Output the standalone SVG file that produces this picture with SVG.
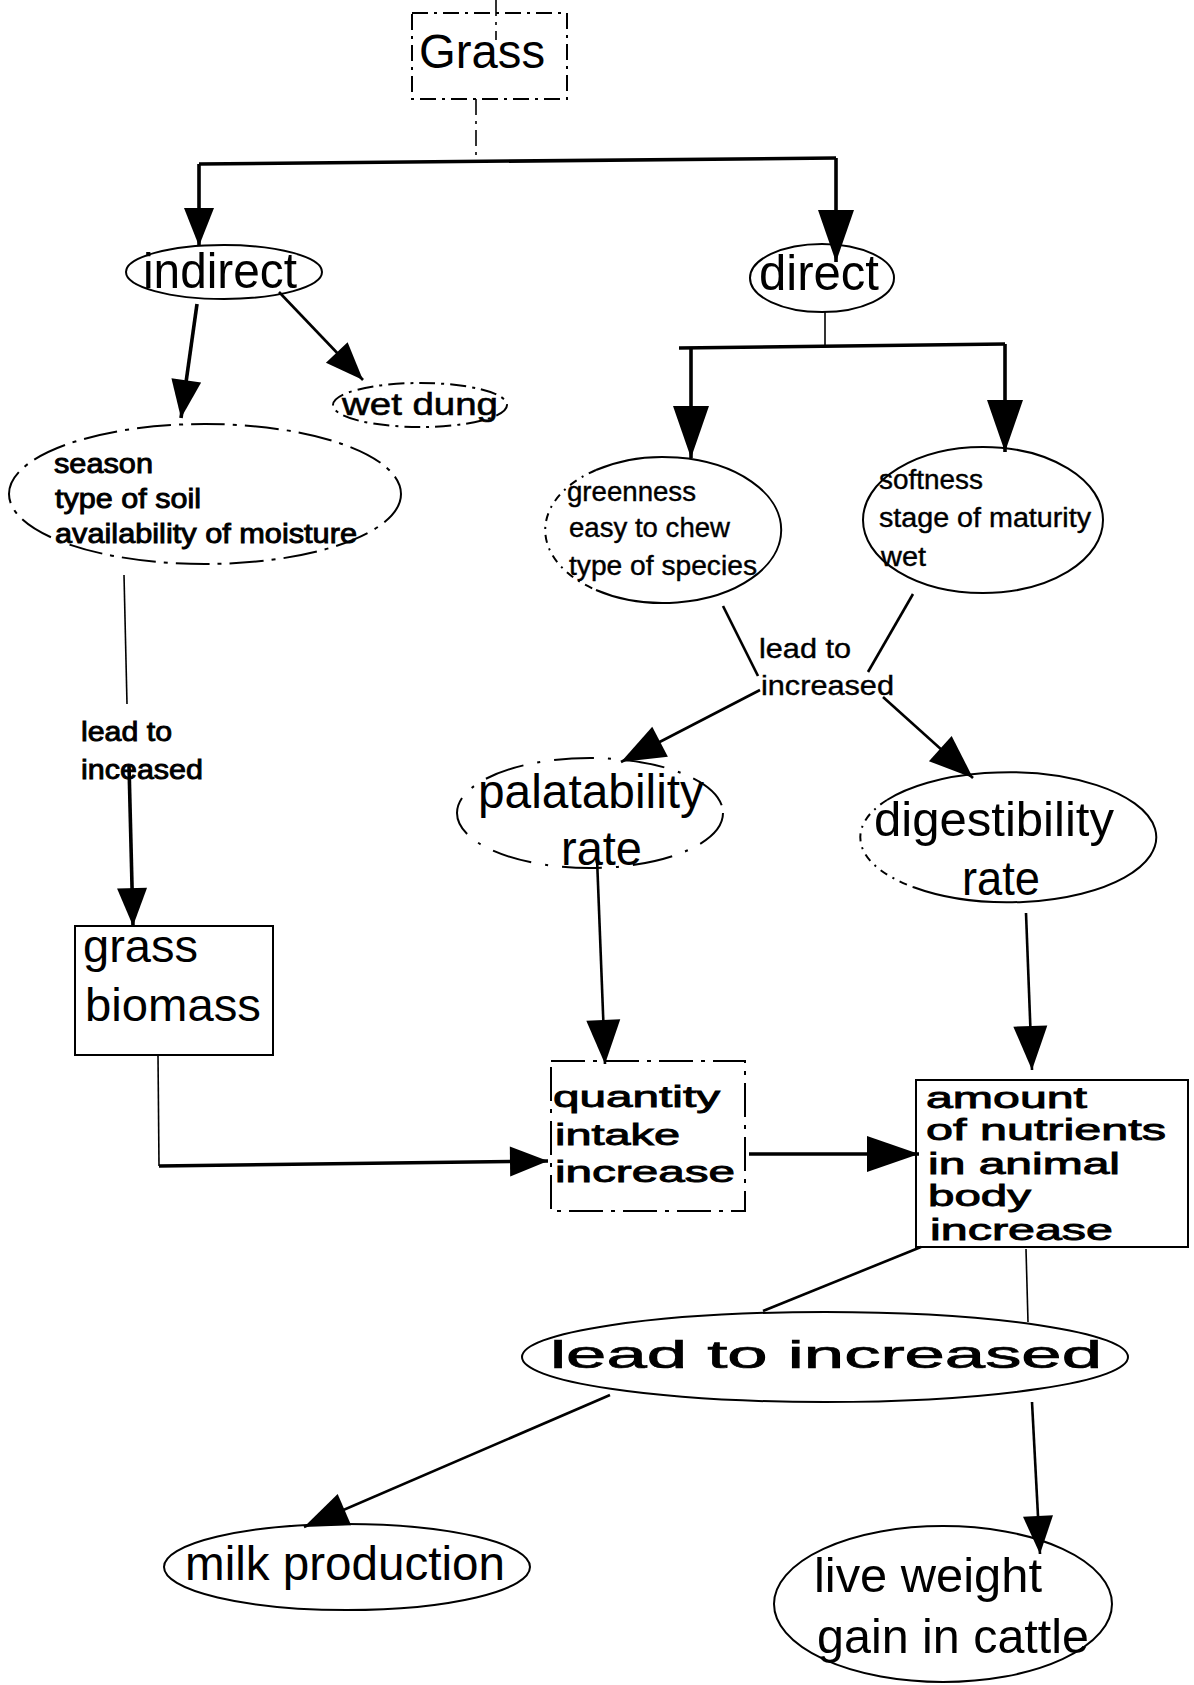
<svg xmlns="http://www.w3.org/2000/svg" width="1194" height="1685" viewBox="0 0 1194 1685">
  <defs>
    <style>
      .bg { fill: #ffffff; }
      .shape { fill: none; stroke: #000; stroke-width: 2; }
      .dash { stroke-dasharray: 16 6 3 6; }
      .dash2 { stroke-dasharray: 34 8 4 8; }
      .dash3 { stroke-dasharray: 8 6 2 6; }
      .thin { fill: none; stroke: #000; stroke-width: 1.6; }
      .mid { fill: none; stroke: #000; stroke-width: 2.6; }
      .thick { fill: none; stroke: #000; stroke-width: 3.6; }
      text { font-family: "Liberation Sans", Arial, Helvetica, sans-serif; fill: #000; }
      .big { font-size: 48px; }
      .med { font-size: 38px; stroke: #000; stroke-width: 0.7; }
      .small { font-size: 27px; stroke: #000; stroke-width: 0.4; }
      .bold { font-size: 27px; stroke: #000; stroke-width: 0.9; }
      .wide { font-size: 30px; stroke: #000; stroke-width: 0.9; }
    </style>
    <marker id="ah-big" markerUnits="userSpaceOnUse" markerWidth="52" markerHeight="36" refX="52" refY="18" orient="auto" overflow="visible">
      <path d="M0,0 L52,18 L0,36 z" fill="#000"/>
    </marker>
    <marker id="ah-mid" markerUnits="userSpaceOnUse" markerWidth="44" markerHeight="34" refX="44" refY="17" orient="auto" overflow="visible">
      <path d="M0,0 L44,17 L0,34 z" fill="#000"/>
    </marker>
    <marker id="ah-sm" markerUnits="userSpaceOnUse" markerWidth="38" markerHeight="30" refX="38" refY="15" orient="auto" overflow="visible">
      <path d="M0,0 L38,15 L0,30 z" fill="#000"/>
    </marker>
  </defs>

  <rect class="bg" x="0" y="0" width="1194" height="1685"/>

  <!-- connectors -->
  <g id="connectors">
    <!-- Grass to the two branches -->
    <path class="thin dash" d="M496,0 L496,40"/>
    <path class="thin dash" d="M476,99 L476,161"/>
    <path class="thick" d="M199,164 L836,158"/>
    <path class="thick" d="M199,164 L199,246" marker-end="url(#ah-sm)"/>
    <path class="thick" d="M836,158 L836,262" marker-end="url(#ah-big)"/>

    <!-- indirect branch -->
    <path class="thick" d="M197,304 L181,418" marker-end="url(#ah-sm)"/>
    <path class="mid" d="M279,292 L363,380" marker-end="url(#ah-sm)"/>
    <path class="thin" d="M124,575 L127,704"/>
    <path class="thick" d="M129,765 L133,926" marker-end="url(#ah-sm)"/>
    <path class="thin" d="M158,1055 L159,1166"/>
    <path class="thick" d="M159,1166 L548,1161" marker-end="url(#ah-sm)"/>

    <!-- direct branch -->
    <path class="thin" d="M825,312 L825,346"/>
    <path class="thick" d="M679,348 L1005,344"/>
    <path class="thick" d="M691,348 L691,458" marker-end="url(#ah-big)"/>
    <path class="thick" d="M1005,344 L1005,452" marker-end="url(#ah-big)"/>
    <path class="mid" d="M723,606 L758,676"/>
    <path class="mid" d="M913,594 L868,672"/>
    <path class="mid" d="M760,690 L621,762" marker-end="url(#ah-mid)"/>
    <path class="mid" d="M883,697 L973,778" marker-end="url(#ah-mid)"/>
    <path class="mid" d="M597,858 L605,1064" marker-end="url(#ah-mid)"/>
    <path class="mid" d="M1026,913 L1032,1070" marker-end="url(#ah-mid)"/>

    <!-- intake to nutrients -->
    <path class="thick" d="M749,1154 L919,1154" marker-end="url(#ah-big)"/>

    <!-- nutrients to outcomes -->
    <path class="mid" d="M921,1247 L763,1311"/>
    <path class="thin" d="M1026,1249 L1028,1322"/>
    <path class="mid" d="M610,1395 L304,1527" marker-end="url(#ah-mid)"/>
    <path class="mid" d="M1032,1402 L1040,1554" marker-end="url(#ah-sm)"/>
  </g>

  <g id="grass">
    <rect class="shape dash" x="412" y="13" width="155" height="86" stroke-width="1.6"/>
    <text class="big" x="419" y="68" textLength="126" lengthAdjust="spacingAndGlyphs">Grass</text>
  </g>

  <g id="indirect">
    <ellipse class="shape" cx="224" cy="272" rx="98" ry="27"/>
    <text x="143" y="288" font-size="50" textLength="154" lengthAdjust="spacingAndGlyphs">indirect</text>
  </g>

  <g id="wet-dung">
    <ellipse class="shape dash" cx="420" cy="405" rx="87" ry="22" stroke-width="1.6"/>
    <text x="342" y="415" font-size="32" stroke="#000" stroke-width="0.6" textLength="156" lengthAdjust="spacingAndGlyphs">wet dung</text>
  </g>

  <g id="conditions">
    <ellipse class="shape dash2" cx="205" cy="494" rx="196" ry="70" stroke-width="1.6"/>
    <text class="bold" x="54" y="473" textLength="99" lengthAdjust="spacingAndGlyphs">season</text>
    <text class="bold" x="55" y="508" textLength="146" lengthAdjust="spacingAndGlyphs">type of soil</text>
    <text class="bold" x="55" y="543" textLength="302" lengthAdjust="spacingAndGlyphs">availability of moisture</text>
  </g>

  <g id="label-biomass">
    <text class="bold" x="81" y="741" textLength="91" lengthAdjust="spacingAndGlyphs">lead to</text>
    <text class="bold" x="81" y="779" textLength="122" lengthAdjust="spacingAndGlyphs">inceased</text>
  </g>

  <g id="grass-biomass">
    <rect class="shape" x="75" y="926" width="198" height="129" stroke-width="1.6"/>
    <text x="83" y="962" font-size="46" textLength="115" lengthAdjust="spacingAndGlyphs">grass</text>
    <text x="85" y="1021" font-size="46" textLength="176" lengthAdjust="spacingAndGlyphs">biomass</text>
  </g>

  <g id="direct">
    <ellipse class="shape" cx="822" cy="278" rx="72" ry="34"/>
    <text x="759" y="290" font-size="50" textLength="120" lengthAdjust="spacingAndGlyphs">direct</text>
  </g>

  <g id="greenness">
    <!-- broken left side, solid right side -->
    <path class="shape dash3" d="M596,470 A118,73 0 0 0 596,590" stroke-width="1.6"/>
    <path class="shape" d="M596,590 A118,73 0 1 0 596,470" stroke-width="1.8"/>
    <text class="small" x="567" y="501" textLength="129" lengthAdjust="spacingAndGlyphs">greenness</text>
    <text class="small" x="569" y="537" textLength="161" lengthAdjust="spacingAndGlyphs">easy to chew</text>
    <text class="small" x="569" y="575" textLength="188" lengthAdjust="spacingAndGlyphs">type of species</text>
  </g>

  <g id="softness">
    <ellipse class="shape" cx="983" cy="520" rx="120" ry="73" stroke-width="1.8"/>
    <text class="small" x="879" y="489" textLength="104" lengthAdjust="spacingAndGlyphs">softness</text>
    <text class="small" x="879" y="527" textLength="212" lengthAdjust="spacingAndGlyphs">stage of maturity</text>
    <text class="small" x="881" y="566" textLength="45" lengthAdjust="spacingAndGlyphs">wet</text>
  </g>

  <g id="label-rates">
    <text class="small" x="759" y="658" textLength="92" lengthAdjust="spacingAndGlyphs">lead to</text>
    <text class="small" x="761" y="695" textLength="133" lengthAdjust="spacingAndGlyphs">increased</text>
  </g>

  <g id="palatability">
    <ellipse class="shape" cx="590" cy="813" rx="133" ry="55" stroke-width="1.6" stroke-dasharray="40 14 3 14"/>
    <text class="big" x="478" y="808" textLength="226" lengthAdjust="spacingAndGlyphs">palatability</text>
    <text class="big" x="561" y="865" textLength="81" lengthAdjust="spacingAndGlyphs">rate</text>
  </g>

  <g id="digestibility">
    <!-- broken left side, solid right side -->
    <path class="shape dash3" d="M887,800 A148,65 0 0 0 913,887" stroke-width="1.6"/>
    <path class="shape" d="M913,887 A148,65 0 1 0 887,800"/>
    <text class="big" x="874" y="836" textLength="240" lengthAdjust="spacingAndGlyphs">digestibility</text>
    <text class="big" x="962" y="895" textLength="78" lengthAdjust="spacingAndGlyphs">rate</text>
  </g>

  <g id="intake">
    <rect class="shape dash2" x="551" y="1061" width="194" height="150" stroke-width="1.6"/>
    <text class="wide" x="553" y="1107" textLength="167" lengthAdjust="spacingAndGlyphs">quantity</text>
    <text class="wide" x="555" y="1145" textLength="125" lengthAdjust="spacingAndGlyphs">intake</text>
    <text class="wide" x="555" y="1182" textLength="180" lengthAdjust="spacingAndGlyphs">increase</text>
  </g>

  <g id="nutrients">
    <rect class="shape" x="916" y="1080" width="272" height="167" stroke-width="1.8"/>
    <text class="wide" x="926" y="1108" textLength="161" lengthAdjust="spacingAndGlyphs">amount</text>
    <text class="wide" x="926" y="1140" textLength="240" lengthAdjust="spacingAndGlyphs">of nutrients</text>
    <text class="wide" x="928" y="1174" textLength="192" lengthAdjust="spacingAndGlyphs">in animal</text>
    <text class="wide" x="928" y="1206" textLength="103" lengthAdjust="spacingAndGlyphs">body</text>
    <text class="wide" x="930" y="1240" textLength="183" lengthAdjust="spacingAndGlyphs">increase</text>
  </g>

  <g id="lead-to-increased">
    <ellipse class="shape" cx="825" cy="1357" rx="303" ry="45"/>
    <text class="med" x="550" y="1368" textLength="552" lengthAdjust="spacingAndGlyphs">lead to increased</text>
  </g>

  <g id="milk-production">
    <ellipse class="shape" cx="347" cy="1567" rx="183" ry="43"/>
    <text class="big" x="185" y="1580" textLength="320" lengthAdjust="spacingAndGlyphs">milk production</text>
  </g>

  <g id="live-weight">
    <ellipse class="shape" cx="943" cy="1604" rx="169" ry="78" stroke-width="2.4"/>
    <text class="big" x="814" y="1592" textLength="228" lengthAdjust="spacingAndGlyphs">live weight</text>
    <text class="big" x="817" y="1653" textLength="272" lengthAdjust="spacingAndGlyphs">gain in cattle</text>
  </g>
</svg>
